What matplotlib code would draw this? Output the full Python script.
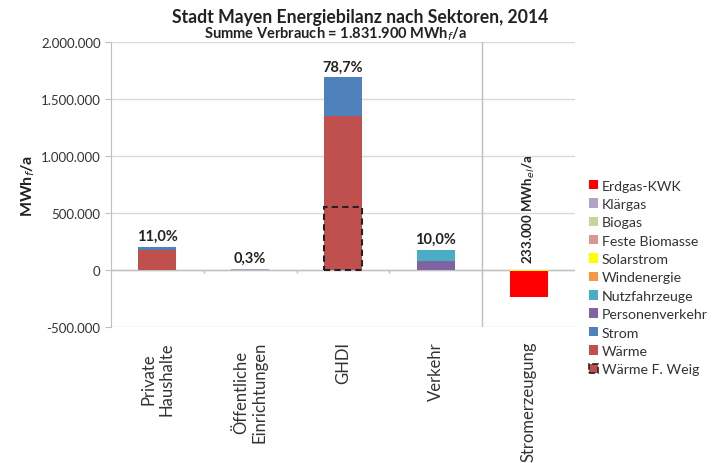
import matplotlib.pyplot as plt
from matplotlib.patches import Patch
from matplotlib.ticker import FuncFormatter
import numpy as np

plt.rcParams['font.family'] = ['Lato', 'DejaVu Sans']

# Sectors and their energy use (MWh/a), negative = local power generation
sectors = ["Private\nHaushalte", "Öffentliche\nEinrichtungen", "GHDI", "Verkehr", "Stromerzeugung"]
waerme = [175000, 2500, 1350000, 0, 0]
strom = [26000, 1000, 340000, 0, 0]
klaergas = [0, 2000, 0, 0, 0]
personenverkehr = [0, 0, 0, 80000, 0]
nutzfahrzeuge = [0, 0, 0, 97000, 0]
solarstrom = [0, 0, 0, 0, -9000]
erdgas_kwk = [0, 0, 0, 0, -224000]
waerme_weig = [0, 0, 550000, 0, 0]
shares = ["11,0%", "0,3%", "78,7%", "10,0%", ""]
strom_total = "233.000 MWh$_{el}$/a"

colors = {
    "Erdgas-KWK": "#FF0000",
    "Klärgas": "#B3A2C7",
    "Biogas": "#C3D69B",
    "Feste Biomasse": "#D99694",
    "Solarstrom": "#FFFF00",
    "Windenergie": "#F79646",
    "Nutzfahrzeuge": "#4BACC6",
    "Personenverkehr": "#8064A2",
    "Strom": "#4F81BD",
    "Wärme": "#C0504D",
}

fig = plt.figure(figsize=(7.16, 4.64), dpi=100)
ax = fig.add_axes([0.155, 0.293, 0.648, 0.614])

x = np.arange(len(sectors))
w = 0.41

# positive stacks
pos_stack = [("Wärme", waerme), ("Strom", strom), ("Klärgas", klaergas),
             ("Personenverkehr", personenverkehr), ("Nutzfahrzeuge", nutzfahrzeuge)]
bottom = np.zeros(len(sectors))
for name, vals in pos_stack:
    vals = np.array(vals, dtype=float)
    ax.bar(x, vals, w, bottom=bottom, color=colors[name], zorder=3)
    bottom += vals
top = bottom.copy()

# negative stacks (generation)
neg_bottom = np.zeros(len(sectors))
for name, vals in [("Solarstrom", solarstrom), ("Erdgas-KWK", erdgas_kwk)]:
    vals = np.array(vals, dtype=float)
    ax.bar(x, vals, w, bottom=neg_bottom, color=colors[name], zorder=3)
    neg_bottom += vals

# dashed outline for the Weig heat share (only where there is one)
weig = np.array(waerme_weig, dtype=float)
has_weig = weig > 0
ax.bar(x[has_weig], weig[has_weig], w, fill=False, edgecolor="#222222",
       linestyle=(0, (3, 2)), linewidth=1.5, zorder=4)

for xi, t, s in zip(x, top, shares):
    if s:
        ax.annotate(s, (xi, t), xytext=(0, 3), textcoords="offset points",
                    ha="center", va="bottom", fontsize=10.5, fontweight="bold", color="#222222")

ax.annotate(strom_total, (x[-1], 0), xytext=(0, 5), textcoords="offset points",
            rotation=90, ha="center", va="bottom", fontsize=9.5, fontweight="bold",
            color="#222222")

ax.set_xlim(-0.5, len(sectors) - 0.5)
ax.set_ylim(-500000, 2000000)
ax.set_yticks(np.arange(-500000, 2000001, 500000))
ax.yaxis.set_major_formatter(FuncFormatter(lambda v, p: f"{int(v):,}".replace(",", ".")))
ax.grid(axis="y", color="#D9D9D9", linewidth=1, zorder=0)
ax.set_axisbelow(True)

for side in ["top", "right", "bottom"]:
    ax.spines[side].set_visible(False)
ax.spines["left"].set_color("#BFBFBF")
ax.tick_params(axis="y", colors="#BFBFBF", length=4, labelcolor="#333333", labelsize=9.5)

ax.set_xticks(x)
ax.set_xticklabels(sectors, rotation=90, fontsize=12, color="#333333",
                   multialignment="center")
ax.tick_params(axis="x", length=0, pad=10)

# category separators on the zero line and the generation divider
ax.vlines(x[:-1] + 0.5, -30000, 0, color="#BFBFBF", linewidth=1, zorder=2)
ax.axhline(0, color="#BFBFBF", linewidth=1, zorder=2)
ax.axvline(3.5, color="#BFBFBF", linewidth=1, zorder=2)

ax.set_ylabel("MWh$_f$/a", fontsize=11.5, fontweight="bold", color="#222222", labelpad=3)

fig.text(0.503, 0.962, "Stadt Mayen Energiebilanz nach Sektoren, 2014",
         ha="center", va="center", fontsize=12.7, fontweight="bold", color="#222222")
fig.text(0.469, 0.926, "Summe Verbrauch = 1.831.900 MWh$_f$/a",
         ha="center", va="center", fontsize=10.5, fontweight="bold", color="#222222")

handles = [Patch(facecolor=c, edgecolor="none", label=n) for n, c in colors.items()]
handles.append(Patch(facecolor=colors["Wärme"], edgecolor="#222222", linestyle="--",
                     linewidth=1.2, label="Wärme F. Weig"))
fig.legend(handles=handles, loc="center left", bbox_to_anchor=(0.818, 0.40),
           frameon=False, fontsize=10.2, handlelength=0.65, handleheight=0.65,
           handletextpad=0.3, labelspacing=0.45, labelcolor="#333333",
           borderpad=0.2, borderaxespad=0)

fig.savefig("out.png", dpi=100)
